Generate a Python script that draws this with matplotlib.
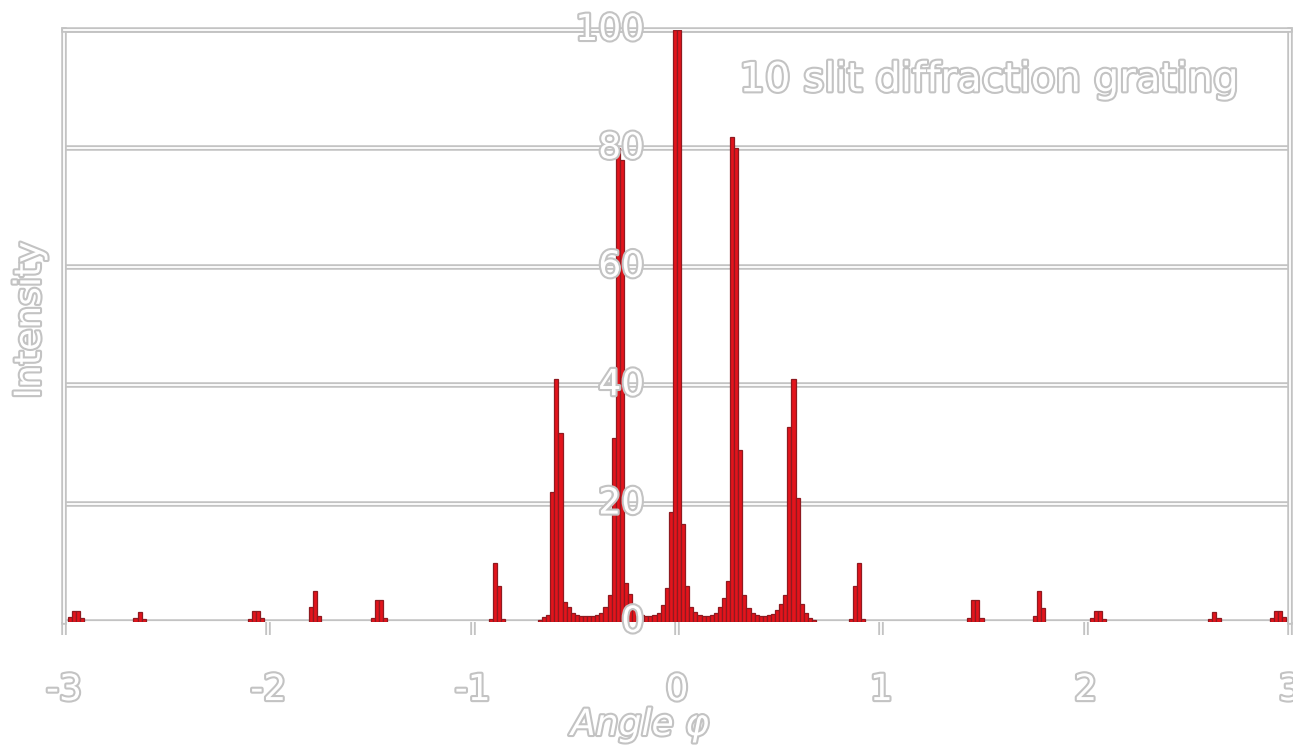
import numpy as np
import matplotlib.pyplot as plt
import matplotlib.patheffects as pe

# sampled intensity of the 10 slit grating (bin width 0.02)
angle = [-2.97, -2.95, -2.93, -2.91,
         -2.65, -2.63, -2.61,
         -2.09, -2.07, -2.05, -2.03,
         -1.79, -1.77, -1.75,
         -1.49, -1.47, -1.45, -1.43,
         -0.91, -0.89, -0.87, -0.85,
         -0.67, -0.65, -0.63, -0.61, -0.59, -0.57, -0.55, -0.53, -0.51, -0.49,
         -0.47, -0.45, -0.43, -0.41, -0.39, -0.37, -0.35, -0.33, -0.31, -0.29,
         -0.27, -0.25, -0.23, -0.21, -0.19, -0.17, -0.15, -0.13, -0.11, -0.09,
         -0.07, -0.05, -0.03, -0.01, 0.01, 0.03, 0.05, 0.07, 0.09, 0.11,
         0.13, 0.15, 0.17, 0.19, 0.21, 0.23, 0.25, 0.27, 0.29, 0.31,
         0.33, 0.35, 0.37, 0.39, 0.41, 0.43, 0.45, 0.47, 0.49, 0.51,
         0.53, 0.55, 0.57, 0.59, 0.61, 0.63, 0.65, 0.67,
         0.85, 0.87, 0.89, 0.91,
         1.43, 1.45, 1.47, 1.49,
         1.75, 1.77, 1.79,
         2.03, 2.05, 2.07, 2.09,
         2.61, 2.63, 2.65,
         2.91, 2.93, 2.95, 2.97]
intensity = [0.8, 1.9, 1.9, 0.6,
             0.6, 1.7, 0.5,
             0.5, 1.8, 1.8, 0.6,
             2.5, 5.2, 1.0,
             0.6, 3.7, 3.7, 0.6,
             0.5, 10, 6, 0.5,
             0.3, 0.8, 1.2, 22, 41, 32, 3.4, 2.5, 1.6, 1.2,
             1.0, 1.0, 1.0, 1.0, 1.2, 1.5, 2.5, 4.5, 31, 80,
             78, 6.6, 4.8, 2.9, 1.8, 1.2, 1.0, 1.0, 1.2, 1.5,
             2.9, 5.7, 18.5, 100, 100, 16.5, 6, 2.5, 1.7, 1.2,
             1.0, 1.0, 1.2, 1.5, 2.5, 4, 7, 82, 80, 29,
             4.6, 2.4, 1.5, 1.1, 1.0, 1.0, 1.1, 1.3, 2.0, 3.0,
             4.5, 33, 41, 21, 3, 1.5, 0.7, 0.3,
             0.5, 6, 10, 0.5,
             0.6, 3.7, 3.7, 0.6,
             1.0, 5.2, 2.3,
             0.6, 1.8, 1.8, 0.5,
             0.5, 1.7, 0.6,
             0.6, 1.9, 1.9, 0.8]
# the two lists above were typed by hand; trim to the shorter in case of a slip
n = min(len(angle), len(intensity))
angle, intensity = angle[:n], intensity[:n]

xticks = [-3, -2, -1, 0, 1, 2, 3]
xlabels = ['-3', '-2', '-1', '0', '1', '2', '3']
yticks = [0, 20, 40, 60, 80, 100]
ylabels = ['0', '20', '40', '60', '80', '100']

gray = '#c3c3c3'
hollow_txt = [pe.withStroke(linewidth=3, foreground=gray)]
hollow_line = [pe.Stroke(linewidth=4, foreground=gray), pe.Normal()]

fig, ax = plt.subplots(figsize=(12.93, 7.5), dpi=100)
fig.subplots_adjust(left=64/1293, right=1290/1293, top=1-30/750, bottom=1-622/750)

ax.bar(angle, intensity, width=0.02, color='#e3141c', edgecolor='#8f1a20',
       linewidth=0.9, zorder=3)

ax.set_xlim(-3, 3)
ax.set_ylim(0, 100)

# hollow grid lines and frame
for v in yticks:
    ax.axhline(v, color='white', lw=1.3, path_effects=hollow_line, zorder=1)
for s in ['left', 'right', 'top']:
    ax.spines[s].set_color('white')
    ax.spines[s].set_linewidth(1.3)
    ax.spines[s].set_path_effects(hollow_line)
ax.spines['bottom'].set_visible(False)

ax.set_xticks([])
ax.set_yticks([])
xt = ax.get_xaxis_transform()
ax.vlines(xticks, -0.022, 0, transform=xt, color='white', lw=1.3,
          path_effects=hollow_line, clip_on=False, zorder=1)

for t, lab in zip(xticks, xlabels):
    ax.text(t, -0.115, lab, transform=xt, ha='center', va='center',
            fontsize=26, color='white', path_effects=hollow_txt, clip_on=False)
for v, lab in zip(yticks, ylabels):
    ax.text(-0.16, v, lab, ha='right', va='center', fontsize=26,
            color='white', path_effects=hollow_txt, zorder=5, clip_on=False)

ax.text(0.754, 0.915, '10 slit diffraction grating', transform=ax.transAxes,
        ha='center', va='center', fontsize=29, color='white',
        path_effects=hollow_txt, zorder=5)

fig.text(30/1293, 1-320/750, 'Intensity', rotation=90, ha='center', va='center',
         fontsize=26, color='white', path_effects=hollow_txt)
fig.text(640/1293, 1-725/750, 'Angle φ', ha='center', va='center',
         fontsize=26, style='italic', color='white', path_effects=hollow_txt)

fig.savefig('out.png')
